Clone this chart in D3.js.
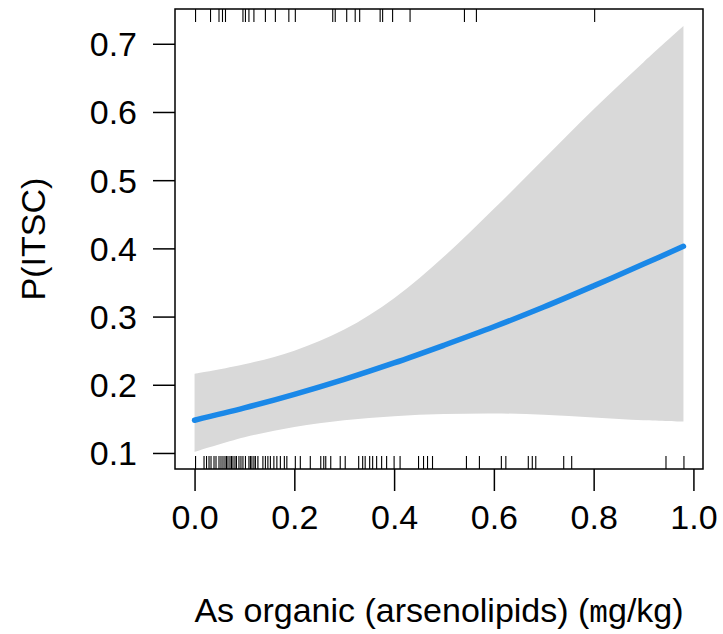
<!DOCTYPE html>
<html>
<head>
<meta charset="utf-8">
<script src="https://cdn.jsdelivr.net/npm/d3@7"></script>
<style>
  body { margin: 0; background: #fff; }
  text { font-family: "Liberation Sans", Arial, sans-serif; fill: #000; }
</style>
</head>
<body>
<svg class="chart"></svg>
<script>
// DATA /////////////////////////////////////////
const xGrid = [0, 0.1, 0.2, 0.3, 0.4, 0.5, 0.6, 0.7, 0.8, 0.9, 0.98];
const fit = [0.148, 0.166, 0.186, 0.208, 0.232, 0.258, 0.285, 0.314, 0.345, 0.377, 0.403];
const lower = [0.1015, 0.123, 0.138, 0.148, 0.154, 0.157, 0.158, 0.156, 0.152, 0.148, 0.146];
const upper = [0.216, 0.23, 0.25, 0.281, 0.327, 0.388, 0.458, 0.531, 0.604, 0.673, 0.726];

// cases (top rug) and non-cases (bottom rug)
const rugTop = [0.002, 0.032, 0.049, 0.056, 0.062, 0.097, 0.102, 0.109, 0.119, 0.142,
  0.162, 0.189, 0.202, 0.277, 0.282, 0.305, 0.322, 0.331, 0.372, 0.377, 0.397, 0.432,
  0.541, 0.565, 0.802];
const rugBottom = [0.002, 0.019, 0.024, 0.029, 0.033, 0.039, 0.043, 0.049, 0.053, 0.057,
  0.061, 0.064, 0.067, 0.071, 0.074, 0.077, 0.081, 0.084, 0.089, 0.093, 0.097, 0.102,
  0.109, 0.112, 0.115, 0.119, 0.122, 0.127, 0.137, 0.142, 0.147, 0.152, 0.159, 0.165,
  0.172, 0.18, 0.185, 0.202, 0.212, 0.232, 0.253, 0.259, 0.263, 0.273, 0.292, 0.302,
  0.329, 0.337, 0.342, 0.351, 0.357, 0.365, 0.375, 0.385, 0.4, 0.412, 0.449, 0.459,
  0.467, 0.477, 0.545, 0.571, 0.615, 0.624, 0.669, 0.677, 0.684, 0.74, 0.756, 0.945, 0.981];

const xTicks = [0, 0.2, 0.4, 0.6, 0.8, 1.0];
const yTicks = [0.1, 0.2, 0.3, 0.4, 0.5, 0.6, 0.7];

// LAYOUT ///////////////////////////////////////
const W = 723, H = 634;
const box = { left: 175, right: 703, top: 9, bottom: 469 };
const fontSize = 34;

const svg = d3.select(".chart").attr("width", W).attr("height", H);

const x = d3.scaleLinear().domain([-0.0392, 1.0192]).range([box.left, box.right]);
const y = d3.scaleLinear().domain([0.0765, 0.751]).range([box.bottom, box.top]);

const rows = xGrid.map((v, i) => ({ x: v, fit: fit[i], lo: lower[i], hi: upper[i] }));

// confidence band
const band = d3.area()
  .x((d) => x(d.x))
  .y0((d) => y(d.lo))
  .y1((d) => y(d.hi))
  .curve(d3.curveCatmullRom.alpha(0.5));

svg.append("path")
  .datum(rows)
  .attr("d", band)
  .attr("fill", "#d9d9d9");

// fitted line
const line = d3.line()
  .x((d) => x(d.x))
  .y((d) => y(d.fit))
  .curve(d3.curveCatmullRom.alpha(0.5));

svg.append("path")
  .datum(rows)
  .attr("d", line)
  .attr("fill", "none")
  .attr("stroke", "#1a88e8")
  .attr("stroke-width", 5.5)
  .attr("stroke-linecap", "round");

// rugs
const rugLen = 13;
svg.append("g").selectAll("line")
  .data(rugTop)
  .join("line")
  .attr("x1", (d) => x(d)).attr("x2", (d) => x(d))
  .attr("y1", box.top).attr("y2", box.top + rugLen)
  .attr("stroke", "#000").attr("stroke-width", 1.1);

svg.append("g").selectAll("line")
  .data(rugBottom)
  .join("line")
  .attr("x1", (d) => x(d)).attr("x2", (d) => x(d))
  .attr("y1", box.bottom).attr("y2", box.bottom - rugLen)
  .attr("stroke", "#000").attr("stroke-width", 1.1);

// box
svg.append("rect")
  .attr("x", box.left).attr("y", box.top)
  .attr("width", box.right - box.left).attr("height", box.bottom - box.top)
  .attr("fill", "none").attr("stroke", "#000").attr("stroke-width", 1.5);

// AXES /////////////////////////////////////////
const xAxis = d3.axisBottom(x).tickValues(xTicks).tickSize(22)
  .tickFormat(d3.format(".1f"));
const gx = svg.append("g").attr("transform", `translate(0,${box.bottom})`).call(xAxis);
gx.attr("font-size", null).attr("font-family", null);
gx.select(".domain").remove();
gx.selectAll(".tick line").attr("stroke-width", 1.5);
gx.selectAll("text")
  .style("font-size", fontSize + "px")
  .attr("fill", "#000")
  .attr("y", 60)
  .attr("dy", 0);

const yAxis = d3.axisLeft(y).tickValues(yTicks).tickSize(22)
  .tickFormat(d3.format(".1f"));
const gy = svg.append("g").attr("transform", `translate(${box.left},0)`).call(yAxis);
gy.attr("font-size", null).attr("font-family", null);
gy.select(".domain").remove();
gy.selectAll(".tick line").attr("stroke-width", 1.5);
gy.selectAll("text")
  .style("font-size", fontSize + "px")
  .attr("fill", "#000")
  .attr("x", -38)
  .attr("dy", "0.35em");

// axis titles
const xt = svg.append("text")
  .attr("x", (box.left + box.right) / 2)
  .attr("y", 622)
  .attr("text-anchor", "middle")
  .style("font-size", fontSize + "px");
xt.append("tspan").text("As organic (arsenolipids) (");
xt.append("tspan").style("font-family", "Liberation Mono, monospace").style("font-size", "31px").text("m");
xt.append("tspan").text("g/kg)");

svg.append("text")
  .attr("transform", `translate(45,${(box.top + box.bottom) / 2}) rotate(-90)`)
  .attr("text-anchor", "middle")
  .style("font-size", fontSize + "px")
  .text("P(ITSC)");
</script>
</body>
</html>
